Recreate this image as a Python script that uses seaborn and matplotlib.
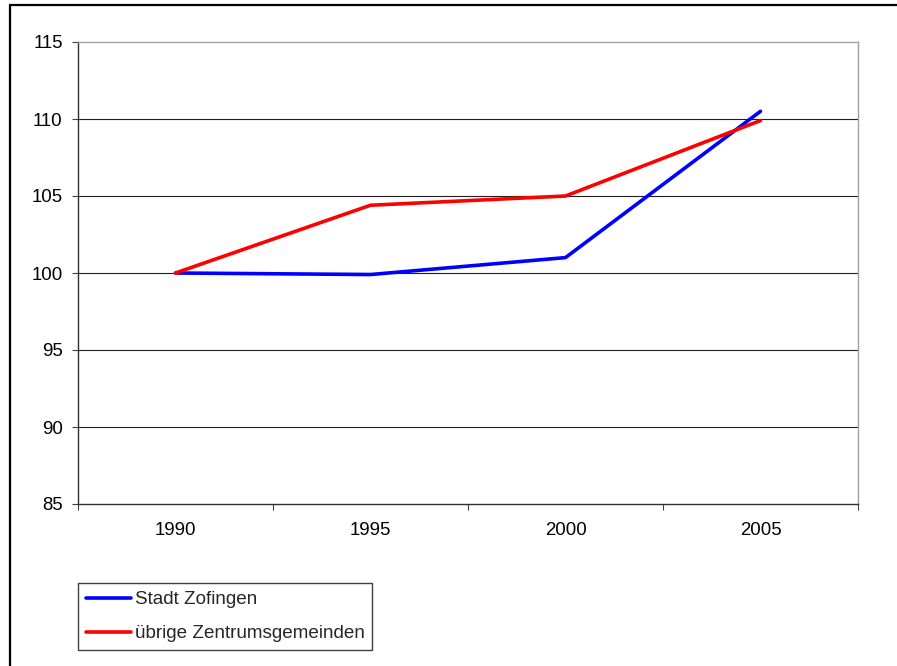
import matplotlib
matplotlib.use("Agg")
import matplotlib.pyplot as plt
from matplotlib.patches import Rectangle
from matplotlib.ticker import FixedLocator
import seaborn as sns
import pandas as pd

# Index values (1990 = 100)
years = ["1990", "1995", "2000", "2005"]
stadt_zofingen = [100.0, 99.9, 101.0, 110.5]
uebrige_zentrumsgemeinden = [100.0, 104.4, 105.0, 109.9]
series_names = ["Stadt Zofingen", "übrige Zentrumsgemeinden"]
series_colors = ["#0000FF", "#FF0000"]
y_ticks = [85, 90, 95, 100, 105, 110, 115]

df = pd.DataFrame({
    "Jahr": years * 2,
    "pos": list(range(len(years))) * 2,
    "Index": stadt_zofingen + uebrige_zentrumsgemeinden,
    "Serie": [series_names[0]] * len(years) + [series_names[1]] * len(years),
})

sns.set_theme(style="white")
plt.rcParams["font.family"] = ["Liberation Sans", "DejaVu Sans"]

fig = plt.figure(figsize=(8.97, 6.66), dpi=100)
ax = fig.add_axes([78 / 897, (666 - 504) / 666, 780 / 897, 462 / 666])

sns.lineplot(data=df, x="pos", y="Index", hue="Serie", hue_order=series_names,
             palette=series_colors, linewidth=2.6, ax=ax, legend=True, sort=False)

ax.set_xlim(-0.5, len(years) - 0.5)
ax.set_ylim(y_ticks[0], y_ticks[-1])
ax.set_yticks(y_ticks)
ax.set_yticklabels([str(t) for t in y_ticks])
ax.set_xticks(range(len(years)))
ax.set_xticklabels(years)
ax.xaxis.set_minor_locator(FixedLocator([i - 0.5 for i in range(len(years) + 1)]))
ax.set_xlabel("")
ax.set_ylabel("")

ax.tick_params(axis="x", which="major", length=0, pad=13, labelsize=13.4, colors="black")
ax.tick_params(axis="x", which="minor", bottom=True, length=4.5, width=0.8, color="#404040", direction="out")
ax.tick_params(axis="y", left=True, length=4.5, width=0.8, color="#404040", pad=6.5,
               labelsize=13.4, labelcolor="black", direction="out")

ax.yaxis.grid(True, color="#202020", linewidth=0.8)
ax.xaxis.grid(False)
ax.set_axisbelow(True)
gl = ax.yaxis.get_gridlines()
gl[0].set_visible(False)
gl[-1].set_visible(False)

for side in ["left", "bottom"]:
    ax.spines[side].set_color("#303030")
    ax.spines[side].set_linewidth(1.0)
for side in ["top", "right"]:
    ax.spines[side].set_color("#a0a0a0")
    ax.spines[side].set_linewidth(1.0)
    ax.spines[side].set_visible(True)

handles, labels = ax.get_legend_handles_labels()
ax.get_legend().remove()
for h in handles:
    h.set_linewidth(2.6)
leg = fig.legend(handles, labels, loc="lower left",
                 bbox_to_anchor=(78 / 897, (666 - 650) / 666),
                 bbox_transform=fig.transFigure, borderaxespad=0,
                 fontsize=13.6, frameon=True, fancybox=False, shadow=False,
                 handlelength=2.4, handletextpad=0.2, labelspacing=0.9,
                 borderpad=0.4)
leg.get_frame().set_edgecolor("#404040")
leg.get_frame().set_linewidth(1.0)
leg.get_frame().set_alpha(1)

# Outer chart frame (left and top edges visible)
fig.patches.append(Rectangle((10 / 897, -0.2), 1.2, 0.2 + (666 - 5) / 666,
                             transform=fig.transFigure, fill=False,
                             edgecolor="black", linewidth=1.6, zorder=10))

fig.savefig("out.png", dpi=100)
